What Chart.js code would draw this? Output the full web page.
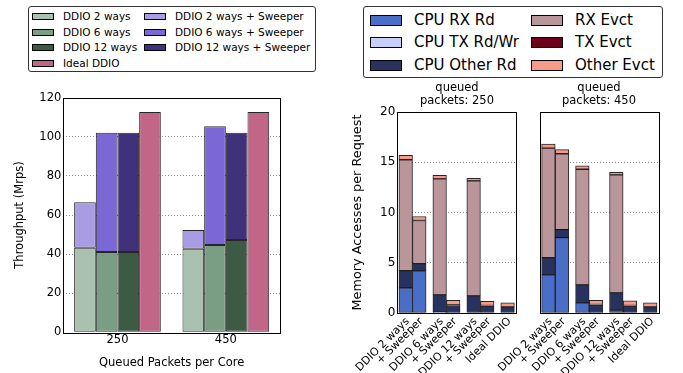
<!DOCTYPE html>
<html>
<head>
<meta charset="utf-8">
<script src="https://cdn.jsdelivr.net/npm/chart.js@4.4.0/dist/chart.umd.min.js"></script>
<style>
body{margin:0;width:683px;height:373px;position:relative;overflow:hidden;background:#fff;font-family:'DejaVu Sans',sans-serif;color:#000;}
.box{position:absolute;}
.legend{position:absolute;border:1px solid #333;border-radius:3px;background:#fff;box-sizing:border-box;}
.sw{position:absolute;border:1px solid #000;box-sizing:border-box;}
.lt{position:absolute;white-space:nowrap;line-height:1;}
.ptitle{position:absolute;text-align:center;font-size:11.5px;line-height:13px;width:140px;}
</style>
</head>
<body>
<div class="box" style="left:0;top:0;width:290px;height:373px"><canvas id="thruChart"></canvas></div>
<div class="box" style="left:340px;top:0;width:180px;height:373px"><canvas id="mem250"></canvas></div>
<div class="box" style="left:480px;top:0;width:203px;height:373px"><canvas id="mem450"></canvas></div>
<div class="ptitle" style="left:387px;top:81px">queued<br>packets: 250</div>
<div class="ptitle" style="left:529px;top:81px">queued<br>packets: 450</div>
<script>
Chart.defaults.font.family = "'DejaVu Sans', sans-serif";
Chart.defaults.color = '#000';

// throughput (Mrps) per queued packets per core
const queued = ['250', '450'];
const ddio2 = [43.3, 42.8];
const ddio2Sweeper = [66.5, 52.3];
const ddio6 = [41.1, 44.7];
const ddio6Sweeper = [102.1, 105.4];
const ddio12 = [41.1, 47.2];
const ddio12Sweeper = [102.1, 102.1];
const idealDdio = [112.7, 112.7];

// memory accesses per request, one value per configuration
const configs = ['DDIO 2 ways', '+ Sweeper', 'DDIO 6 ways', '+ Sweeper', 'DDIO 12 ways', '+ Sweeper', 'Ideal DDIO'];
const cpuRxRd250    = [2.5, 4.2, 0.1, 0.05, 0, 0, 0];
const cpuTxRdWr250  = [0, 0, 0, 0, 0, 0, 0];
const cpuOtherRd250 = [1.7, 0.7, 1.7, 0.7, 1.7, 0.7, 0.6];
const rxEvct250     = [11.05, 4.3, 11.55, 0.05, 11.45, 0.05, 0];
const txEvct250     = [0, 0, 0, 0, 0, 0, 0];
const otherEvct250  = [0.45, 0.4, 0.35, 0.45, 0.25, 0.4, 0.4];

const cpuRxRd450    = [3.8, 7.5, 1.0, 0.05, 0.3, 0, 0];
const cpuTxRdWr450  = [0, 0, 0, 0, 0, 0, 0];
const cpuOtherRd450 = [1.7, 0.8, 1.8, 0.75, 1.7, 0.7, 0.6];
const rxEvct450     = [10.9, 7.55, 11.5, 0.05, 11.75, 0.05, 0];
const txEvct450     = [0, 0, 0, 0, 0, 0, 0];
const otherEvct450  = [0.4, 0.4, 0.35, 0.4, 0.25, 0.45, 0.4];

// bar slots on the right panels (pairs side by side, gap between pairs)
const slotX = [0.5, 1.5, 3, 4, 5.5, 6.5, 8];

const frame = {
  id: 'frame',
  afterDatasetsDraw(chart) {
    const a = chart.chartArea, ctx = chart.ctx;
    ctx.save();
    ctx.strokeStyle = '#000';
    ctx.lineWidth = 1;
    ctx.strokeRect(Math.round(a.left) + 0.5, Math.round(a.top) + 0.5, Math.round(a.right - a.left), Math.round(a.bottom - a.top));
    ctx.restore();
  }
};

function dottedGrid(lo, hi) {
  return {
    color: c => (c.tick.value === lo || c.tick.value === hi) ? 'rgba(0,0,0,0)' : '#8a8a8a',
    lineWidth: 1,
    drawTicks: false
  };
}

const barStyle = { borderColor: 'rgba(0,0,0,0.85)', borderWidth: 1, borderSkipped: false };

// left chart
const thruSets = [
  { label: 'DDIO 2 ways', data: ddio2, backgroundColor: '#abc1b0', stack: 'a' },
  { label: 'DDIO 2 ways + Sweeper', data: ddio2Sweeper.map((v, i) => v - ddio2[i]), backgroundColor: '#a99be4', stack: 'a' },
  { label: 'DDIO 6 ways', data: ddio6, backgroundColor: '#7a9e84', stack: 'b' },
  { label: 'DDIO 6 ways + Sweeper', data: ddio6Sweeper.map((v, i) => v - ddio6[i]), backgroundColor: '#7b68d6', stack: 'b' },
  { label: 'DDIO 12 ways', data: ddio12, backgroundColor: '#3d5a45', stack: 'c' },
  { label: 'DDIO 12 ways + Sweeper', data: ddio12Sweeper.map((v, i) => v - ddio12[i]), backgroundColor: '#40327a', stack: 'c' },
  { label: 'Ideal DDIO', data: idealDdio, backgroundColor: '#c16686', stack: 'd' }
].map(d => Object.assign(d, barStyle, { categoryPercentage: 0.8, barPercentage: 1 }));

new Chart(document.getElementById('thruChart'), {
  type: 'bar',
  data: { labels: queued, datasets: thruSets },
  options: {
    responsive: true, maintainAspectRatio: false, animation: false,
    layout: { padding: { top: 97.7, right: 10, left: 0, bottom: 0 } },
    plugins: { legend: { display: false }, tooltip: { enabled: false } },
    scales: {
      x: {
        stacked: true,
        grid: { display: false, drawTicks: false },
        border: { display: false },
        ticks: { font: { size: 11.5 }, padding: 1 },
        title: { display: true, text: 'Queued Packets per Core', font: { size: 11.5 }, padding: { top: 0, bottom: 2.6 } },
        afterFit: s => { s.height = 40.7; }
      },
      y: {
        stacked: true, min: 0, max: 120,
        ticks: { stepSize: 20, font: { size: 11.5 }, padding: 2 },
        grid: dottedGrid(0, 120),
        border: { display: false, dash: [1, 2] },
        title: { display: true, text: 'Throughput (Mrps)', font: { size: 11.5 }, padding: { top: 13.6, bottom: 0 } },
        afterFit: s => { s.width = 63.3; }
      }
    }
  },
  plugins: [frame]
});

// right panels
const memSeries = [
  { label: 'CPU RX Rd', color: '#4a6ec8' },
  { label: 'CPU TX Rd/Wr', color: '#c8d0f8' },
  { label: 'CPU Other Rd', color: '#28325f' },
  { label: 'RX Evct', color: '#ba969a' },
  { label: 'TX Evct', color: '#6e001e' },
  { label: 'Other Evct', color: '#f59b87' }
];

function memPanel(id, values, yWidth, padRight, showY) {
  const datasets = values.map((vals, k) => Object.assign({
    label: memSeries[k].label,
    data: vals.map((v, i) => ({ x: slotX[i], y: v })),
    backgroundColor: memSeries[k].color,
    categoryPercentage: 1, barPercentage: 1
  }, barStyle));
  new Chart(document.getElementById(id), {
    type: 'bar',
    data: { datasets },
    options: {
      responsive: true, maintainAspectRatio: false, animation: false,
      layout: { padding: { top: 112, right: padRight, left: 0, bottom: 0 } },
      plugins: { legend: { display: false }, tooltip: { enabled: false } },
      scales: {
        x: {
          type: 'linear', stacked: true, min: -0.12, max: 8.62, bounds: 'data', offset: false,
          grid: { display: false, drawTicks: false },
          border: { display: false },
          afterBuildTicks: s => { s.ticks = slotX.map(v => ({ value: v })); },
          ticks: { autoSkip: false, minRotation: 45, maxRotation: 45, font: { size: 11 }, padding: 2, labelOffset: 2,
                   callback: (v, i) => configs[i] },
          afterFit: s => { s.height = 60; }
        },
        y: {
          stacked: true, min: 0, max: 20,
          ticks: { display: showY, stepSize: 5, font: { size: 12 }, padding: 2 },
          grid: dottedGrid(0, 20),
          border: { display: false, dash: [1, 2] },
          title: { display: showY, text: 'Memory Accesses per Request', font: { size: 12.8 }, padding: { top: 10.3, bottom: 0 } },
          afterFit: s => { s.width = yWidth; }
        }
      }
    },
    plugins: [frame]
  });
}

memPanel('mem250', [cpuRxRd250, cpuTxRdWr250, cpuOtherRd250, rxEvct250, txEvct250, otherEvct250], 57.3, 4, true);
memPanel('mem450', [cpuRxRd450, cpuTxRdWr450, cpuOtherRd450, rxEvct450, txEvct450, otherEvct450], 60, 24.3, false);

// legends
function legend(pos, items, o) {
  const box = document.createElement('div');
  box.className = 'legend';
  Object.assign(box.style, { left: pos[0] + 'px', top: pos[1] + 'px', width: pos[2] + 'px', height: pos[3] + 'px' });
  items.forEach((it, k) => {
    const col = Math.floor(k / o.rows), row = k % o.rows;
    const sw = document.createElement('div');
    sw.className = 'sw';
    Object.assign(sw.style, { left: o.swX[col] + 'px', top: (o.rowY[row] - o.swH / 2) + 'px', width: o.swW + 'px', height: o.swH + 'px', background: it.color });
    const t = document.createElement('div');
    t.className = 'lt';
    t.textContent = it.label;
    Object.assign(t.style, { left: o.textX[col] + 'px', top: (o.rowY[row] - o.font * 0.5) + 'px', fontSize: o.font + 'px' });
    box.appendChild(sw);
    box.appendChild(t);
  });
  document.body.appendChild(box);
}

const thruOrder = [0, 2, 4, 6, 1, 3, 5];
legend([28, 6, 288, 66], thruOrder.map(i => ({ label: thruSets[i].label, color: thruSets[i].backgroundColor })),
  { rows: 4, swX: [3, 115], textX: [34, 146], rowY: [9.5, 25, 40.5, 56], swW: 22, swH: 7, font: 10.5 });
legend([363, 6, 300, 72], memSeries,
  { rows: 3, swX: [6, 167], textX: [50, 211], rowY: [13, 35.8, 58], swW: 32, swH: 11, font: 15 });
</script>
</body>
</html>
